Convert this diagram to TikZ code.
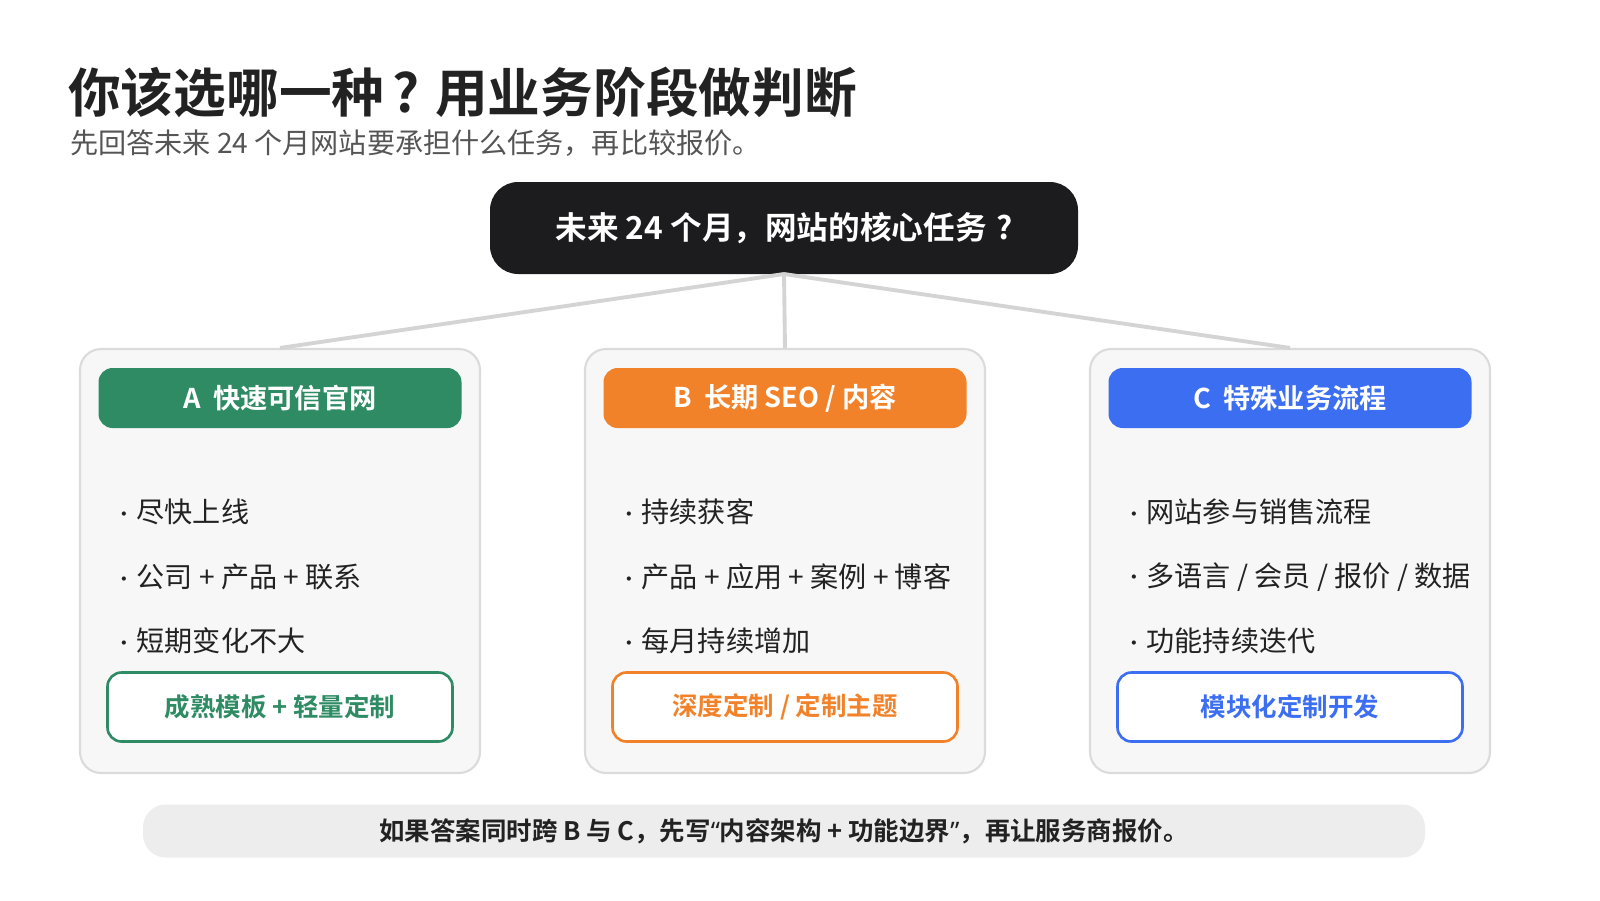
\documentclass[tikz,border=0pt]{standalone}
\usepackage{fontspec}
\setmainfont{Noto Sans CJK SC}[BoldFont={Noto Sans CJK SC Bold}]
\newfontfamily\lat{Noto Sans}
\usetikzlibrary{positioning}
\definecolor{cgreen}{HTML}{2E8B63}
\definecolor{corange}{HTML}{F2822A}
\definecolor{cblue}{HTML}{3B6EF0}
\definecolor{cdark}{HTML}{1C1C1E}
\definecolor{ctext}{HTML}{222222}
\definecolor{cgray}{HTML}{555555}
\tikzset{
  card/.style={draw=black!14, line width=1.2pt, fill=black!3, rounded corners=12pt, minimum width=400*0.02cm, minimum height=424*0.02cm},
  head/.style={fill=#1, text=white, font=\bfseries\fontsize{15.5}{15.5}\selectfont, rounded corners=8pt, minimum width=363*0.02cm, minimum height=60*0.02cm},
  pick/.style={draw=#1, text=#1, fill=white, line width=1.5pt, font=\bfseries\fontsize{14.5}{14.5}\selectfont, rounded corners=8pt, minimum width=345*0.02cm, minimum height=69*0.02cm},
  item/.style={anchor=west, text=ctext, font=\fontsize{16}{16}\selectfont},
  link/.style={draw=black!17, line width=2.2pt}
}
\newcommand\bul{\raisebox{0.05em}{\scalebox{0.7}{•}}\hspace{0.1em}}
\begin{document}
\begin{tikzpicture}[x=0.02cm, y=-0.02cm]
  \useasboundingbox (0,0) rectangle (1600,900);
  \fill[white] (0,0) rectangle (1600,900);

  %Title
  \node[anchor=west, text=ctext, font=\bfseries\fontsize{30}{30}\selectfont] (title) at (62,92) {你该选哪一种\hspace{0.15em}?\hspace{0.3em}用业务阶段做判断};
  \node[anchor=west, text=cgray, font=\fontsize{16}{16}\selectfont] (subtitle) at (64,143) {先回答未来 24 个月网站要承担什么任务，再比较报价。};

  %Question
  \node[fill=cdark, text=white, rounded corners=16pt, minimum width=588*0.02cm, minimum height=92*0.02cm, font=\bfseries\fontsize{18}{18}\selectfont] (q) at (784,228) {未来 24 个月，网站的核心任务\hspace{0.3em}?};

  %Cards
  \node[card] (ca) at (280,561) {};
  \node[card] (cb) at (785,561) {};
  \node[card] (cc) at (1290,561) {};

  %Links
  \coordinate (qs) at (784,274);
  \draw[link] (qs) -- (ca.north);
  \draw[link] (qs) -- (cb.north);
  \draw[link] (qs) -- (cc.north);

  %Headers
  \node[head=cgreen] (ha) at (280,398) {A\ \ 快速可信官网};
  \node[head=corange] (hb) at (785,398) {B\ \ 长期 SEO / 内容};
  \node[head=cblue] (hc) at (1290,398) {C\ \ 特殊业务流程};

  %Items
  \node[item] (a1) at (108,512) {\bul 尽快上线};
  \node[item] (a2) at (108,577) {\bul 公司 + 产品 + 联系};
  \node[item] (a3) at (108,641) {\bul 短期变化不大};
  \node[item] (b1) at (613,512) {\bul 持续获客};
  \node[item] (b2) at (613,577) {\bul 产品 + 应用 + 案例 + 博客};
  \node[item] (b3) at (613,641) {\bul 每月持续增加};
  \node[item] (c1) at (1118,512) {\bul 网站参与销售流程};
  \node[item] (c2) at (1118,577) {\bul 多语言 / 会员 / 报价 / 数据};
  \node[item] (c3) at (1118,641) {\bul 功能持续迭代};

  %Picks
  \node[pick=cgreen] (pa) at (280,707) {成熟模板 + 轻量定制};
  \node[pick=corange] (pb) at (785,707) {深度定制 / 定制主题};
  \node[pick=cblue] (pc) at (1290,707) {模块化定制开发};

  %Footer
  \node[fill=black!7, rounded corners=13pt, minimum width=1282*0.02cm, minimum height=53*0.02cm, text=ctext, font=\bfseries\fontsize{14.5}{14.5}\selectfont] (note) at (784,831) {如果答案同时跨 B 与 C，先写{\lat\bfseries “}内容架构 + 功能边界{\lat\bfseries ”}，再让服务商报价。};
\end{tikzpicture}
\end{document}
